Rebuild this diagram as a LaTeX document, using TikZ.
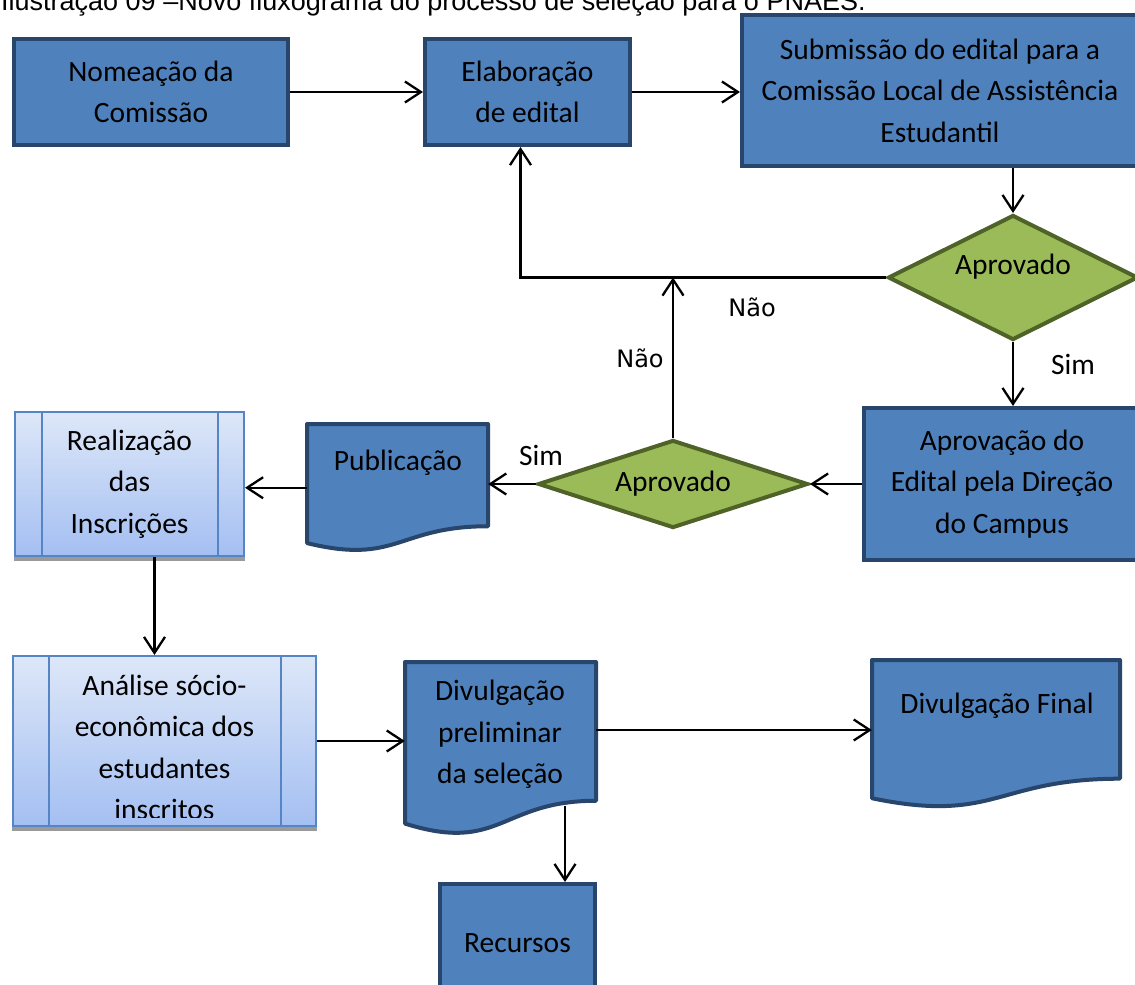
\documentclass[tikz,border=0pt]{standalone}
\usepackage{fontspec}
\setmainfont{Carlito}
\newfontfamily\capfont{Liberation Sans}
\newfontfamily\dvfont{DejaVu Sans}
\usetikzlibrary{arrows.meta,shapes.geometric,calc}
\definecolor{boxblue}{HTML}{4F81BD}
\definecolor{boxborder}{HTML}{28456B}
\definecolor{dfill}{HTML}{9BBB59}
\definecolor{dborder}{HTML}{4F6228}
\definecolor{ppTop}{HTML}{DDE7F8}
\definecolor{ppBot}{HTML}{A4BFF2}
\definecolor{ppBorder}{HTML}{5585C4}
\definecolor{shadowgray}{HTML}{9A9A9A}
\newcommand\mainsz{\fontsize{29.5}{41.5}\selectfont}
\newcommand\docshp[4]{%
  \draw[docst] (#1,#2) -- ({#1+#3},#2) -- ({#1+#3},{#2+0.802*#4})
    .. controls ({#1+0.5*#3},{#2+0.802*#4}) and ({#1+0.5*#3},{#2+1.1075*#4}) ..
    (#1,{#2+0.934*#4}) -- cycle;}
\tikzset{
  bluebox/.style={draw=boxborder, fill=boxblue, line width=4pt, inner sep=0pt, align=center, font=\mainsz},
  docst/.style={draw=boxborder, fill=boxblue, line width=4pt, line join=round},
  docbox/.style={draw=none, inner sep=0pt},
  dmd/.style={diamond, draw=dborder, fill=dfill, line width=4pt, inner sep=0pt, font=\mainsz},
  ppbox/.style={draw=ppBorder, top color=ppTop, bottom color=ppBot, line width=2pt, inner sep=0pt, align=center, font=\mainsz},
  ppline/.style={draw=ppBorder, line width=2pt},
  txt/.style={align=center, font=\mainsz, inner sep=0pt},
  lbl/.style={font=\mainsz, inner sep=0pt},
  lbldv/.style={font=\dvfont\fontsize{24}{28}\selectfont, inner sep=0pt},
  arr/.style={draw=black, line width=2.3pt, -{Straight Barb[length=16pt,width=21pt,line width=2.3pt]}}
}
\begin{document}
\begin{tikzpicture}[x=1pt,y=-1pt]
\useasboundingbox (0,0) rectangle (1135,985);
\clip (0,0) rectangle (1135,985);
\fill[white] (0,0) rectangle (1135,985);

% caption (cut at top)
\node[anchor=base west, inner sep=0pt, font=\capfont\fontsize{27}{32}\selectfont] (cap) at (1,10) {Ilustração 09 –Novo fluxograma do processo de seleção para o PNAES.};

% top row
\node[bluebox, minimum width=274pt, minimum height=106pt] (nom) at (151,92) {Nomeação da\\Comissão};
\node[bluebox, minimum width=205pt, minimum height=106pt] (ela) at (527.5,92) {Elaboração\\de edital};
\node[bluebox, minimum width=396pt, minimum height=151pt] (sub) at (940,90.5) {Submissão do edital para a\\Comissão Local de Assistência\\Estudantil};

% decision 1
\node[dmd, aspect=2, minimum width=250pt, minimum height=125pt] (d1) at (1013,277.5) {};
\node[lbl] (d1t) at (1013,267) {Aprovado};

% approval box
\node[bluebox, minimum width=276pt, minimum height=152pt] (apr) at (1002,484) {Aprovação do\\Edital pela Direção\\do Campus};

% decision 2
\node[dmd, aspect=3.07, minimum width=270pt, minimum height=88pt] (d2) at (673,484) {Aprovado};

% publicacao
\docshp{307}{424}{181}{127.5}
\node[docbox, minimum width=181pt, minimum height=127.5pt] (pub) at (397.5,487.75) {};
\node[txt] (pubt) at (398,463) {Publicação};

% realizacao
\fill[shadowgray] (14,416) rectangle (245,561);
\node[ppbox, minimum width=229pt, minimum height=144pt] (real) at (129.5,484) {Realização\\das\\Inscrições};
\draw[ppline] ([xshift=28pt]real.north west) -- ([xshift=28pt]real.south west);
\draw[ppline] ([xshift=-27pt]real.north east) -- ([xshift=-27pt]real.south east);

% analise
\fill[shadowgray] (12,660) rectangle (317,831);
\node[ppbox, minimum width=303pt, minimum height=170pt] (ana) at (164.5,741) {};
\begin{scope}
\clip ([xshift=2pt]ana.north west) rectangle ([yshift=10pt,xshift=-2pt]ana.south east);
\node[txt] (anat) at ([yshift=-6.5pt]ana.center) {Análise sócio-\\econômica dos\\estudantes\\inscritos};
\end{scope}
\draw[ppline] ([xshift=37pt]ana.north west) -- ([xshift=37pt]ana.south west);
\draw[ppline] ([xshift=-36pt]ana.north east) -- ([xshift=-36pt]ana.south east);

% divulgacao preliminar
\docshp{405}{662}{191}{173}
\node[docbox, minimum width=191pt, minimum height=173pt] (divp) at (500.5,748.5) {};
\node[txt] (divpt) at (500,734.5) {Divulgação\\preliminar\\da seleção};

% divulgacao final
\docshp{872}{660}{248}{148}
\node[docbox, minimum width=248pt, minimum height=148pt] (divf) at (996,734) {};
\node[txt] (divft) at (997,706) {Divulgação Final};

% recursos
\node[bluebox, minimum width=155pt, minimum height=118pt] (rec) at (517.5,943) {Recursos};

% connectors
\draw[arr] (nom.east) -- (ela.west);
\draw[arr] (ela.east) -- (ela.east -| sub.west);
\draw[arr] (sub.south -| d1.north) -- (d1.north);
\draw[arr] (d1.west) -| ([xshift=-7pt]ela.south);
\draw[arr] (d1.south) -- (d1.south |- apr.north);
\draw[arr] (apr.west) -- (d2.east);
\draw[arr] (d2.north) -- (d2.north |- d1.west);
\draw[arr] (d2.west) -- (d2.west -| pub.east);
\draw[arr] (pub.west) -- (pub.west -| real.east);
\draw[arr] ([xshift=25pt]real.south) -- ([xshift=25pt]real.south |- ana.north);
\draw[arr] (ana.east) -- (ana.east -| divp.west);
\coordinate (fin) at ([yshift=4pt]divf.west);
\draw[arr] (divp.east |- fin) -- (fin);
\coordinate (divpb) at (565,806);
\draw[arr] (divpb) -- (divpb |- rec.north);

% labels
\node[lbldv] (nao1) at (752,307) {Não};
\node[lbldv] (nao2) at (640,358) {Não};
\node[lbl] (sim1) at (1073,364) {Sim};
\node[lbl] (sim2) at (541,455) {Sim};
\end{tikzpicture}
\end{document}
